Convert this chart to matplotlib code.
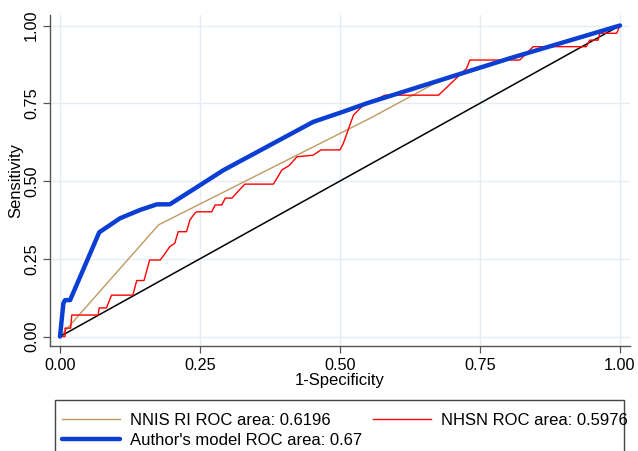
import matplotlib
matplotlib.use("Agg")
import matplotlib.pyplot as plt
from matplotlib.patches import Rectangle

plt.rcParams["font.family"] = ["Liberation Sans", "DejaVu Sans"]

# ROC curves (x = 1-specificity, y = sensitivity)
nnis_x = [0.0, 0.176, 0.554, 0.664, 0.71, 1.0]
nnis_y = [0.0, 0.359, 0.702, 0.809, 0.84, 1.0]

nhsn_x = [0.0, 0.009, 0.009, 0.019, 0.021, 0.068, 0.070, 0.083, 0.092, 0.130,
          0.137, 0.150, 0.160, 0.179, 0.188, 0.196, 0.205, 0.211, 0.226, 0.232,
          0.241, 0.244, 0.271, 0.277, 0.289, 0.295, 0.307, 0.330, 0.381, 0.396,
          0.410, 0.423, 0.452, 0.466, 0.500, 0.506, 0.524, 0.539, 0.580, 0.676,
          0.726, 0.732, 0.821, 0.845, 0.940, 0.946, 0.961, 0.964, 0.994, 1.0]
nhsn_y = [0.0, 0.0, 0.027, 0.027, 0.069, 0.069, 0.092, 0.092, 0.133, 0.133,
          0.180, 0.180, 0.246, 0.246, 0.268, 0.289, 0.300, 0.337, 0.337, 0.375,
          0.397, 0.401, 0.401, 0.423, 0.423, 0.445, 0.445, 0.490, 0.490, 0.535,
          0.551, 0.578, 0.583, 0.600, 0.600, 0.621, 0.712, 0.739, 0.776, 0.776,
          0.862, 0.889, 0.889, 0.932, 0.932, 0.953, 0.953, 0.975, 0.975, 1.0]

model_x = [0.0, 0.006, 0.009, 0.018, 0.070, 0.107, 0.143, 0.173, 0.196,
           0.232, 0.292, 0.452, 0.506, 0.548, 0.804, 1.0]
model_y = [0.0, 0.107, 0.117, 0.117, 0.335, 0.380, 0.407, 0.425, 0.425,
           0.466, 0.535, 0.690, 0.723, 0.750, 0.895, 1.0]

ticks = [0.0, 0.25, 0.5, 0.75, 1.0]
tick_labels = ["0.00", "0.25", "0.50", "0.75", "1.00"]
labels = ["NNIS RI ROC area: 0.6196", "NHSN ROC area: 0.5976",
          "Author's model ROC area: 0.67"]

W, H = 638, 451
fig = plt.figure(figsize=(W / 100, H / 100), dpi=100)
ax = fig.add_axes([50 / W, 1 - 346 / H, 580 / W, 331 / H])

grid_c = "#e3edf3"
for t in ticks:
    ax.axhline(t, color=grid_c, lw=1.0, zorder=0)
    ax.axvline(t, color=grid_c, lw=1.0, zorder=0)

l_nnis, = ax.plot(nnis_x, nnis_y, color="#bf9a62", lw=1.0, zorder=2)
l_nhsn, = ax.plot(nhsn_x, nhsn_y, color="#ff0000", lw=1.0, zorder=3)
l_model, = ax.plot(model_x, model_y, color="#0b3fd4", lw=3.2, zorder=4,
                   solid_capstyle="round", solid_joinstyle="round")
ax.plot([0, 1], [0, 1], color="black", lw=1.1, zorder=2)

ax.set_xlim(-0.0179, 1.0179)
ax.set_ylim(-0.0305, 1.0338)
ax.set_xticks(ticks)
ax.set_xticklabels(tick_labels)
ax.set_yticks(ticks)
ax.set_yticklabels(tick_labels, rotation=90, va="center")
ax.tick_params(labelsize=11.7, length=5, width=0.9, color="#555555", pad=3)
ax.tick_params(axis="x", pad=4)

for s in ["top", "right"]:
    ax.spines[s].set_visible(False)
for s in ["left", "bottom"]:
    ax.spines[s].set_color("#555555")
    ax.spines[s].set_linewidth(1.0)

ax.set_xlabel("1-Specificity", fontsize=12, va="top")
ax.xaxis.set_label_coords(0.5, -(373 - 346) / 331)
ax.set_ylabel("Sensitivity", fontsize=12)
ax.yaxis.set_label_coords(-(50 - 23) / 580, 0.5)

# legend box (bottom edge falls outside the picture like the reference)
fig.patches.append(Rectangle((55 / W, -0.01), (624 - 55) / W, (451 - 400) / H + 0.01,
                             transform=fig.transFigure, fill=False,
                             edgecolor="#444444", lw=1.0))
fig.legend([l_nnis, l_model, l_nhsn], [labels[0], labels[2], labels[1]],
           ncol=2, loc="upper left", bbox_to_anchor=(62 / W, 1 - 413 / H),
           frameon=False, fontsize=12, handlelength=3.5, handletextpad=0.56,
           columnspacing=0.67, labelspacing=0.3, borderpad=0, borderaxespad=0)

fig.savefig("out.png", dpi=100)
